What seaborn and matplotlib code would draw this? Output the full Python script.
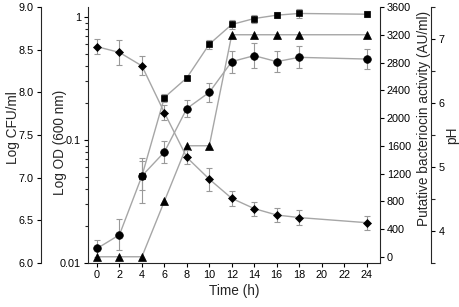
import matplotlib
matplotlib.use('Agg')
import matplotlib.pyplot as plt
import seaborn as sns
from matplotlib.ticker import FixedLocator, FixedFormatter, NullFormatter, MultipleLocator, FormatStrFormatter

# 데이터
time = [0, 2, 4, 6, 8, 10, 12, 14, 16, 18, 24]

od_time = [4, 6, 8, 10, 12, 14, 16, 18, 24]
od = [0.051, 0.222, 0.321, 0.603, 0.872, 0.975, 1.038, 1.072, 1.057]
od_err = [0.020, 0.017, 0.010, 0.047, 0.068, 0.076, 0.060, 0.090, 0.060]

cfu = [6.17, 6.33, 7.02, 7.30, 7.81, 8.00, 8.36, 8.43, 8.36, 8.41, 8.39]
cfu_err = [0.10, 0.18, 0.17, 0.13, 0.10, 0.11, 0.13, 0.15, 0.12, 0.13, 0.12]

bac = [0, 0, 0, 800, 1600, 1600, 3200, 3200, 3200, 3200, 3200]

ph = [6.88, 6.79, 6.58, 5.85, 5.15, 4.81, 4.51, 4.35, 4.25, 4.21, 4.13]
ph_err = [0.12, 0.20, 0.15, 0.12, 0.11, 0.18, 0.12, 0.11, 0.11, 0.12, 0.11]

x_ticks = list(range(0, 25, 2))

#----------------------------------------------------------------
sns.set_theme(style='ticks')
plt.rcParams['font.family'] = ['Liberation Sans', 'DejaVu Sans']
plt.rcParams['axes.linewidth'] = 0.8
plt.rcParams['xtick.major.width'] = 0.8
plt.rcParams['ytick.major.width'] = 0.8
plt.rcParams['ytick.minor.width'] = 0.8
plt.rcParams['xtick.major.size'] = 3
plt.rcParams['ytick.major.size'] = 3
plt.rcParams['ytick.minor.size'] = 2
plt.rcParams['xtick.labelsize'] = 7.8
plt.rcParams['ytick.labelsize'] = 7.8
plt.rcParams['xtick.major.pad'] = 2
plt.rcParams['ytick.major.pad'] = 2

line_c = '#a6a6a6'
err_c = '#999999'

fig = plt.figure(figsize=(4.59, 3.07), dpi=100)
ax = fig.add_axes([88/459, 44/307, 292/459, 256/307])
ax_cfu = ax.twinx()
ax_bac = ax.twinx()
ax_ph = ax.twinx()

def draw(a, x, y, err, marker, ms):
    if err is not None:
        a.errorbar(x, y, yerr=err, fmt='none', ecolor=err_c, elinewidth=0.8,
                   capsize=2, capthick=0.8)
    sns.lineplot(x=x, y=y, ax=a, color=line_c, linewidth=1, marker=marker,
                 markersize=ms, markerfacecolor='black', markeredgecolor='black',
                 markeredgewidth=0.5, errorbar=None)

# OD (log)
draw(ax, od_time, od, od_err, 's', 5)
ax.set_yscale('log')
ax.set_ylim(0.01, 1.21)
ax.yaxis.set_major_locator(FixedLocator([0.01, 0.1, 1]))
ax.yaxis.set_major_formatter(FixedFormatter(['0.01', '0.1', '1']))
ax.yaxis.set_minor_locator(FixedLocator([k * 10**e for e in (-2, -1) for k in range(2, 10)]))
ax.yaxis.set_minor_formatter(NullFormatter())
ax.set_xlim(-0.8, 25.2)
ax.set_xticks(x_ticks)
ax.set_xlabel('Time (h)', fontsize=9.8, labelpad=3)
ax.set_ylabel('Log OD (600 nm)', fontsize=9.8)
ax.yaxis.set_label_coords(-0.072, 0.47)
ax.spines['top'].set_visible(False)
ax.spines['right'].set_visible(False)

# CFU
draw(ax_cfu, time, cfu, cfu_err, 'o', 5.5)
ax_cfu.set_ylim(6.0, 9.0)
ax_cfu.yaxis.set_major_locator(MultipleLocator(0.5))
ax_cfu.yaxis.set_major_formatter(FormatStrFormatter('%.1f'))
ax_cfu.yaxis.set_ticks_position('left')
ax_cfu.yaxis.set_label_position('left')
for s in ['top', 'right', 'bottom']:
    ax_cfu.spines[s].set_visible(False)
ax_cfu.spines['left'].set_visible(True)
ax_cfu.spines['left'].set_position(('outward', 34))
ax_cfu.set_ylabel('Log CFU/ml', fontsize=9.8)
ax_cfu.yaxis.set_label_coords(-0.234, 0.527)

# bacteriocin
draw(ax_bac, time, bac, None, '^', 6)
ax_bac.set_ylim(-90, 3600)
ax_bac.set_yticks(range(0, 3601, 400))
for s in ['top', 'left', 'bottom']:
    ax_bac.spines[s].set_visible(False)
ax_bac.set_ylabel('Putative bacteriocin activity (AU/ml)', fontsize=9.8)
ax_bac.yaxis.set_label_coords(1.127, 0.564)

# pH
draw(ax_ph, time, ph, ph_err, 'D', 4)
ax_ph.set_ylim(3.5, 7.5)
ax_ph.set_yticks([4, 5, 6, 7])
ax_ph.yaxis.set_minor_locator(FixedLocator([3.5, 4.5, 5.5, 6.5, 7.5]))
ax_ph.tick_params(axis='y', which='minor', length=3, width=0.8)
for s in ['top', 'left', 'bottom']:
    ax_ph.spines[s].set_visible(False)
ax_ph.spines['right'].set_position(('outward', 37))
ax_ph.set_ylabel('pH', fontsize=9.8)
ax_ph.yaxis.set_label_coords(1.222, 0.5)

for a in (ax, ax_cfu, ax_bac, ax_ph):
    a.tick_params(colors='black')
ax_cfu.set_xlabel('')
ax_bac.set_xlabel('')
ax_ph.set_xlabel('')

fig.savefig('out.png', dpi=100)
